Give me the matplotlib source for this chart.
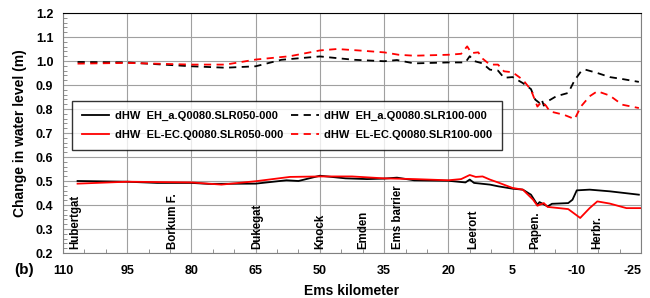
import matplotlib
matplotlib.use("Agg")
import matplotlib.pyplot as plt
from matplotlib.ticker import MultipleLocator

plt.rcParams['font.family'] = ['Liberation Sans', 'DejaVu Sans']
plt.rcParams['font.weight'] = 'bold'

# Black dashed: dHW EH_a.Q0080.SLR100-000
km_eh100 = [106.6, 95, 80, 72, 65, 59, 50, 42, 35, 32, 28, 20, 16, 15, 14, 12, 10.3, 8.4, 7, 5, 2.6, 0.7, -0.3, -1.3, -1.8, -2.3, -3.2, -5.2, -8, -9.5, -11, -12, -14.8, -17.7, -20.6, -24.5]
v_eh100 = [0.996, 0.994, 0.978, 0.972, 0.978, 1.005, 1.019, 1.005, 0.999, 1.004, 0.990, 0.994, 0.994, 1.020, 1.000, 0.990, 0.964, 0.960, 0.930, 0.933, 0.908, 0.883, 0.839, 0.825, 0.840, 0.814, 0.832, 0.853, 0.867, 0.920, 0.957, 0.964, 0.950, 0.933, 0.925, 0.913]

# Red dashed: dHW EL-EC.Q0080.SLR100-000
km_el100 = [106.6, 95, 80, 72, 65, 57, 50, 46, 41, 35, 31.6, 28, 20, 17, 15.6, 14.6, 13, 12, 10.3, 8.4, 7, 5, 2.6, 0.7, -0.8, -1.8, -2.8, -3.7, -7, -9.5, -11, -13, -14.8, -17.7, -20.6, -24.5]
v_el100 = [0.989, 0.992, 0.985, 0.985, 1.006, 1.020, 1.044, 1.050, 1.044, 1.036, 1.026, 1.022, 1.026, 1.030, 1.061, 1.033, 1.036, 1.010, 0.985, 0.985, 0.957, 0.953, 0.922, 0.880, 0.810, 0.830, 0.814, 0.790, 0.776, 0.758, 0.811, 0.853, 0.874, 0.856, 0.818, 0.804]

# Black solid: dHW EH_a.Q0080.SLR050-000
km_eh050 = [106.6, 95, 88, 80, 76, 65, 57.8, 55, 50, 44, 39, 35, 32, 28, 20, 16, 15, 14, 10.3, 8.4, 5, 2.6, 0.7, -0.8, -1.3, -3.2, -4.2, -8, -9, -10, -13, -17.7, -24.5]
v_eh050 = [0.500, 0.497, 0.492, 0.492, 0.488, 0.489, 0.503, 0.500, 0.522, 0.511, 0.508, 0.510, 0.514, 0.503, 0.501, 0.494, 0.506, 0.492, 0.485, 0.478, 0.468, 0.464, 0.443, 0.401, 0.412, 0.394, 0.405, 0.408, 0.422, 0.461, 0.464, 0.457, 0.443]

# Red solid: dHW EL-EC.Q0080.SLR050-000
km_el050 = [106.6, 95, 80, 73, 65, 57, 50, 42.5, 35, 28, 20, 17, 15, 13.6, 12, 10.3, 8.4, 5, 2.6, 0.2, -0.8, -2.3, -3.2, -8, -10.8, -13, -14.8, -17.7, -21.6, -25]
v_el050 = [0.489, 0.497, 0.494, 0.485, 0.499, 0.517, 0.519, 0.519, 0.511, 0.508, 0.503, 0.508, 0.525, 0.517, 0.519, 0.506, 0.494, 0.471, 0.464, 0.422, 0.397, 0.408, 0.392, 0.383, 0.346, 0.387, 0.415, 0.406, 0.387, 0.387]

place_names = ["Hubertgat", "Borkum F.", "Dukegat", "Knock", "Emden", "Ems barrier", "Leerort", "Papen.", "Herbr."]
place_km = [107.1, 84.4, 64.7, 50.0, 39.8, 31.8, 14.2, -0.3, -14.8]

x_ticks = [110, 95, 80, 65, 50, 35, 20, 5, -10, -25]

fig = plt.figure(figsize=(6.5, 2.98), dpi=100)
ax = fig.add_axes([63/650, 1-253/298, (641-63)/650, (253-13)/298])

ax.plot(km_eh050, v_eh050, color='black', lw=1.3, label='dHW  EH_a.Q0080.SLR050-000')
ax.plot(km_eh100, v_eh100, color='black', lw=1.3, ls=(0, (4, 3)), label='dHW  EH_a.Q0080.SLR100-000')
ax.plot(km_el050, v_el050, color='red', lw=1.3, label='dHW  EL-EC.Q0080.SLR050-000')
ax.plot(km_el100, v_el100, color='red', lw=1.3, ls=(0, (4, 3)), label='dHW  EL-EC.Q0080.SLR100-000')

for name, k in zip(place_names, place_km):
    ax.text(k, 0.215, name, rotation=90, ha='center', va='bottom', fontsize=8.3, fontweight='bold')

ax.set_xlim(110, -25)
ax.set_ylim(0.2, 1.2)
ax.set_xticks(x_ticks, [str(v) for v in x_ticks])
ax.xaxis.set_minor_locator(MultipleLocator(5))
ax.yaxis.set_major_locator(MultipleLocator(0.1))
ax.yaxis.set_minor_locator(MultipleLocator(0.02))
ax.yaxis.set_major_formatter(plt.FuncFormatter(lambda v, p: f"{v:.1f}"))
ax.grid(True, which='major', color='#a0a0a0', lw=0.8)
ax.tick_params(which='both', direction='in', labelsize=9, width=0.6, color='#808080')
ax.tick_params(which='major', length=0)
ax.tick_params(axis='x', which='major', pad=9)
ax.tick_params(axis='y', which='major', pad=7)
ax.tick_params(which='minor', length=3)
for lab in ax.get_xticklabels() + ax.get_yticklabels():
    lab.set_fontweight('bold')
ax.get_xticklabels()[-1].set_horizontalalignment('right')
for s in ax.spines.values():
    s.set_color('#808080')
    s.set_linewidth(0.8)
ax.spines['top'].set_color('black')

ax.set_ylabel('Change in water level (m)', fontsize=10, fontweight='bold', labelpad=6)
ax.set_xlabel('Ems kilometer', fontsize=10, fontweight='bold', labelpad=5)

h, l = ax.get_legend_handles_labels()
order = [0, 2, 1, 3]
leg = ax.legend([h[i] for i in order], [l[i] for i in order], ncol=2,
                loc='upper left', bbox_to_anchor=(0.016, 0.633), borderaxespad=0,
                fontsize=8.0, frameon=True, fancybox=False, edgecolor='black',
                handlelength=2.5, handletextpad=0.5, columnspacing=0.7,
                borderpad=0.85, labelspacing=0.85)
leg.get_frame().set_linewidth(1.0)
for t in leg.get_texts():
    t.set_fontweight('bold')

fig.text(14/650, 1-270/298, '(b)', fontsize=11, fontweight='bold', ha='left', va='center')

fig.savefig('out.png', dpi=100)
